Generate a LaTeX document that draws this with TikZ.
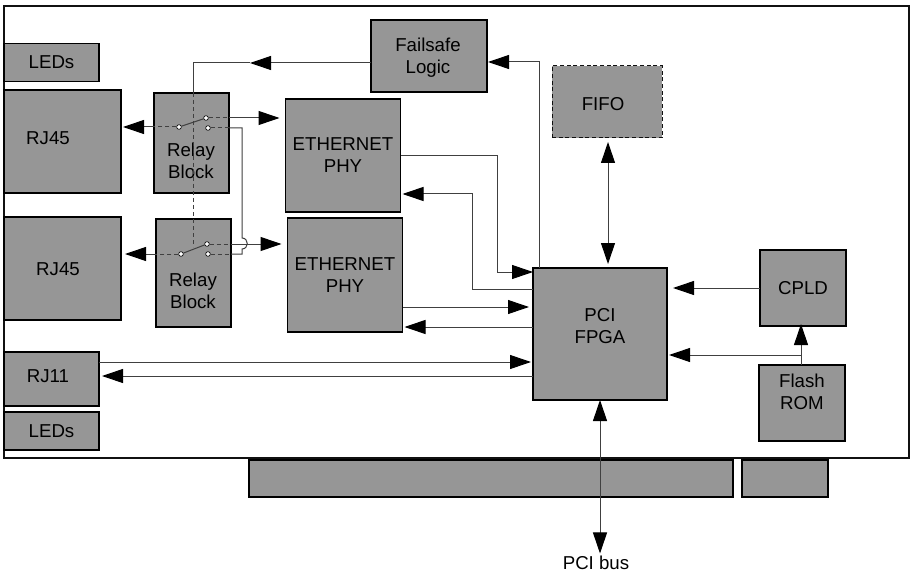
\documentclass[tikz,border=0pt]{standalone}
\usepackage{fontspec}
\setmainfont{Liberation Sans}
\usetikzlibrary{arrows.meta,calc}
\definecolor{brdfill}{HTML}{969696}
\definecolor{brdline}{HTML}{111111}
\definecolor{brdlink}{HTML}{404040}

\begin{document}
\begin{tikzpicture}[x=0.75pt,y=-0.75pt,
  board/.style={rectangle,draw=brdline,line width=0.9pt,fill=white,outer sep=0pt,
    minimum width=678.75pt,minimum height=339pt},
  block/.style 2 args={rectangle,draw=black,line width=1pt,fill=brdfill,outer sep=0pt,
    inner sep=0pt,minimum width=#1*0.75pt,minimum height=#2*0.75pt,
    align=center,font=\fontsize{14}{16.5}\selectfont},
  blocktext/.style={inner sep=0pt,align=center,font=\fontsize{14}{16.5}\selectfont},
  link/.style={brdlink,line width=0.75pt},
  mech/.style={brdlink,line width=0.75pt,dash pattern=on 3pt off 2.25pt},
  tip/.style={link,-{Triangle[length=15.75pt,width=10.5pt,color=black]},shorten >=#1},
  tip/.default=0pt,
  dtip/.style={link,{Triangle[length=15.75pt,width=10.5pt,color=black]}-{Triangle[length=15.75pt,width=10.5pt,color=black]},
    shorten >=#1,shorten <=#1},
  contact/.style={circle,draw=black,line width=0.5pt,fill=white,inner sep=0pt,minimum size=3.5pt}]
  \useasboundingbox (0,0) rectangle (910,574);
  \node[board] (pcb) at (456.5,232) {};
  % edge connector under the board
  \node[block={484}{37}] (edgelong) at (491,478.5) {};
  \node[block={86}{37}] (edgeshort) at (785,478.5) {};
  % left side
  \node[block={95}{38}] (ledtop) at (51.5,62.5) {LEDs};
  \node[block={117}{103}] (rjone) at (62.5,141.5) {};
  \node[block={117}{103}] (rjtwo) at (62.5,268.5) {};
  \node[block={95}{54}] (rjtel) at (51.5,379) {};
  \node[block={95}{38}] (ledlow) at (51.5,431) {LEDs};
  \node[block={75}{100}] (relayone) at (191.5,143) {};
  \node[block={75}{108}] (relaytwo) at (193.5,273) {};
  \node[block={115}{113}] (phyone) at (343,155.5) {ETHERNET\\PHY};
  \node[block={115}{114}] (phytwo) at (345,275) {ETHERNET\\PHY};
  % right side
  \node[block={116}{72}] (failsafe) at (429,56) {};
  \node[block={110}{72},draw=brdline,densely dashed,line width=0.75pt] (fifo) at (607,102) {};
  \node[block={134}{132}] (fpga) at (600,334) {};
  \node[block={86}{76}] (cpld) at (803,288) {CPLD};
  \node[block={86}{76}] (flash) at (802,403) {};
  % labels set off centre
  \node[blocktext] (rjonetext) at (48,138) {RJ45};
  \node[blocktext] (rjtwotext) at (58,269) {RJ45};
  \node[blocktext] (rjteltext) at (48,376) {RJ11};
  \node[blocktext] (relayonetext) at (191,161) {Relay\\Block};
  \node[blocktext] (relaytwotext) at (193,291) {Relay\\Block};
  \node[blocktext] (failsafetext) at (428,58) {Failsafe\\Logic};
  \node[blocktext] (fifotext) at (603,104) {FIFO};
  \node[blocktext] (fpgatext) at (600,326) {PCI\\FPGA};
  \node[blocktext] (flashtext) at (802,392) {Flash\\ROM};
  \node[blocktext,outer sep=2pt] (pcibus) at (596,563) {PCI bus};
  % relay contacts
  \node[contact] (poleone) at (179,127) {};
  \node[contact] (upone) at (206,118) {};
  \node[contact] (lowone) at (208,128) {};
  \node[contact] (poletwo) at (181,254) {};
  \node[contact] (uptwo) at (207,244) {};
  \node[contact] (lowtwo) at (208,254) {};
  % bends
  \coordinate (failout) at (371,63);
  \coordinate (failhead) at (250,63);
  \coordinate (linkbot) at (193,247);
  \coordinate (hopone) at (242,238);
  \coordinate (hoptwo) at (242,249);
  \coordinate (phyinbend) at (497,272);
  \coordinate (phyoutlow) at (472,289);
  \coordinate (phyouthigh) at (472,194);
  \coordinate (phytworx) at (450,307);
  \coordinate (phytwotx) at (450,327);
  \coordinate (rjtelrx) at (300,362);
  \coordinate (rjteltx) at (300,376);
  \coordinate (failin) at (539.5,62);
  \coordinate (flashbr) at (801,355);
  % relay drive
  \draw[tip] (failout) -- (failhead);
  \draw[link] (failhead) -| (relayone.north -| linkbot);
  \draw[mech] (relayone.north -| linkbot) -- (linkbot);
  % relay one
  \draw[link] (poleone) -- (upone);
  \draw[mech] (poleone) -- (relayone.west |- poleone);
  \draw[tip=1.5pt] (relayone.west |- poleone) -- (rjone.east |- poleone);
  \draw[mech] (upone) -- (relayone.east |- upone);
  \draw[tip=4.5pt] (relayone.east |- upone) -- (phyone.west |- upone);
  \draw[mech] (lowone) -- (relayone.east |- lowone);
  % relay two
  \draw[link] (poletwo) -- (uptwo);
  \draw[mech] (poletwo) -- (relaytwo.west |- poletwo);
  \draw[tip=3pt] (relaytwo.west |- poletwo) -- (rjtwo.east |- poletwo);
  \draw[mech] (uptwo) -- (relaytwo.east |- uptwo);
  \draw[tip=4.5pt] (relaytwo.east |- uptwo) -- (phytwo.west |- uptwo);
  \draw[mech] (lowtwo) -- (relaytwo.east |- lowtwo);
  % crossover with hop
  \draw[link] (relayone.east |- lowone) -| (hopone)
    .. controls +(7,0) and +(7,0) .. (hoptwo) |- (relaytwo.east |- lowtwo);
  % phy links
  \draw[tip] (phyone.east) -| (phyinbend) -- (fpga.west |- phyinbend);
  \draw[tip=1.5pt] (fpga.west |- phyoutlow) -- (phyoutlow) -- (phyouthigh) -- (phyone.east |- phyouthigh);
  \draw[tip=3pt] (phytwo.east |- phytworx) -- (fpga.west |- phytworx);
  \draw[tip=1.5pt] (fpga.west |- phytwotx) -- (phytwo.east |- phytwotx);
  % rj11
  \draw[tip=1.5pt] (rjtel.east |- rjtelrx) -- (fpga.west |- rjtelrx);
  \draw[tip=2.25pt] (fpga.west |- rjteltx) -- (rjtel.east |- rjteltx);
  % fpga neighbours
  \draw[tip=0.75pt] (fpga.north -| failin) -- (failin) -- (failsafe.east |- failin);
  \draw[dtip=3pt] (fifo.south -| 608,0) -- (fpga.north -| 608,0);
  \draw[tip=4.5pt] (cpld.west) -- (fpga.east |- cpld.west);
  \draw[tip=-1.5pt] (flash.north -| flashbr) -- (cpld.south -| flashbr);
  \draw[tip=1.5pt] (flashbr) -- (fpga.east |- flashbr);
  \draw[dtip=0pt] (fpga.south) -- (fpga.south |- pcibus.north);
\end{tikzpicture}
\end{document}
